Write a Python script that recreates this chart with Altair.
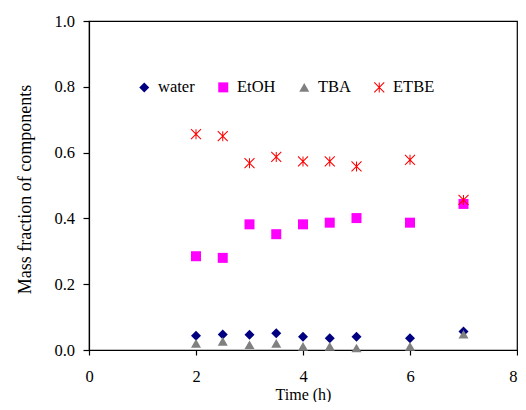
import altair as alt
import pandas as pd

# ---- data ----
times = [2, 2.5, 3, 3.5, 4, 4.5, 5, 6, 7]
water = [0.043, 0.047, 0.046, 0.051, 0.040, 0.036, 0.040, 0.036, 0.056]
etoh = [0.285, 0.280, 0.382, 0.352, 0.382, 0.387, 0.401, 0.387, 0.444]
tba = [0.020, 0.026, 0.016, 0.020, 0.011, 0.011, 0.006, 0.011, 0.048]
etbe = [0.656, 0.650, 0.568, 0.587, 0.573, 0.573, 0.558, 0.578, 0.456]

series_names = ["water", "EtOH", "TBA", "ETBE"]
series_values = [water, etoh, tba, etbe]
series_colors = ["#000080", "#FF00FF", "#808080", "#FF0000"]

x_ticks = [0, 2, 4, 6, 8]
y_ticks = [0.0, 0.2, 0.4, 0.6, 0.8, 1.0]

# asterisk (vertical bar + X) as filled union of thin bars, in [-1, 1] box
a = 0.1
d = 0.075
asterisk = (
    f"M{-a},-1L{a},-1L{a},1L{-a},1Z"
    f"M{-1+d},{-1-d}L{1+d},{1-d}L{1-d},{1+d}L{-1-d},{-1+d}Z"
    f"M{1-d},{-1-d}L{1+d},{-1+d}L{-1+d},{1+d}L{-1-d},{1-d}Z"
)
series_shapes = ["diamond", "square", "triangle-up", asterisk]

rows = []
for i, (name, vals) in enumerate(zip(series_names, series_values)):
    for t, v in zip(times, vals):
        rows.append({"time": t, "value": v, "component": name, "order": i})
df = pd.DataFrame(rows)

font = "Liberation Serif"

legend_kw = dict(
    title=None,
    orient="none",
    legendX=47,
    legendY=58,
    direction="horizontal",
    columns=4,
    columnPadding=20,
    labelOffset=5.5,
    symbolSize=100,
    labelFont=font,
    labelFontSize=16.5,
    labelColor="black",
    padding=0,
    symbolStrokeWidth=0,
)

chart = (
    alt.Chart(df)
    .mark_point(filled=True, opacity=1, size=100, strokeWidth=0)
    .encode(
        x=alt.X(
            "time:Q",
            scale=alt.Scale(domain=[0, 8], nice=False),
            axis=alt.Axis(
                values=x_ticks,
                title="Time (h)",
                format="d",
                tickSize=5,
                labelPadding=26,
                labelBaseline="alphabetic",
                labelFontSize=16.5,
                labelAlign=alt.condition(
                    "datum.value == 8", alt.value("right"), alt.value("center")
                ),
                titleY=49,
                titleBaseline="alphabetic",
                titleFontSize=16,
            ),
        ),
        y=alt.Y(
            "value:Q",
            scale=alt.Scale(domain=[0, 1], nice=False),
            axis=alt.Axis(
                values=y_ticks,
                title="Mass fraction of components",
                format=".1f",
                tickSize=6,
                labelPadding=8.5,
                labelFontSize=16.5,
                titleX=-63.4,
                titleY=168,
                titleBaseline="middle",
                titleFontSize=18,
            ),
        ),
        color=alt.Color(
            "component:N",
            scale=alt.Scale(domain=series_names, range=series_colors),
            legend=alt.Legend(**legend_kw),
        ),
        shape=alt.Shape(
            "component:N",
            scale=alt.Scale(domain=series_names, range=series_shapes),
            legend=alt.Legend(**legend_kw),
        ),
        order=alt.Order("order:Q"),
    )
    .properties(
        width=428,
        height=329,
        autosize=alt.AutoSizeParams(type="none"),
        padding={"left": 81, "top": 13, "right": 1, "bottom": 52},
        background="white",
    )
    .configure_view(stroke="black", strokeWidth=1.2)
    .configure_axis(
        grid=False,
        domainColor="black",
        tickColor="black",
        domainWidth=1.2,
        tickWidth=1.2,
        labelFont=font,
        labelColor="black",
        titleFont=font,
        titleFontWeight="normal",
        titleColor="black",
    )
)

chart.save("out.html", embed_options={"renderer": "svg", "actions": False})
